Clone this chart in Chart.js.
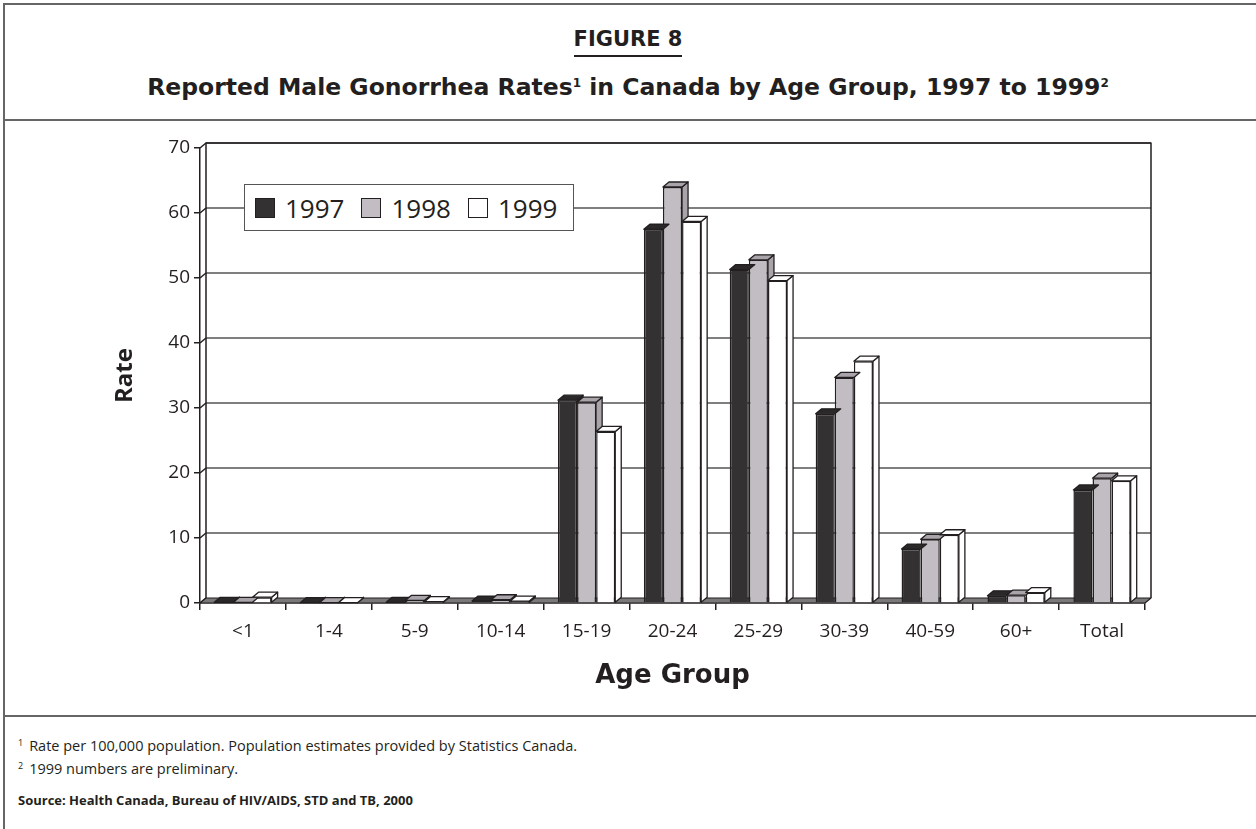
<!DOCTYPE html>
<html>
<head>
<meta charset="utf-8">
<script src="https://cdn.jsdelivr.net/npm/chart.js@4.4.0/dist/chart.umd.min.js"></script>
<style>
  body { margin: 0; width: 1256px; height: 829px; background: #fff; color: #231f20;
         font-family: 'Open Sans', sans-serif; position: relative; overflow: hidden; }
  .frame { position: absolute; left: 3px; top: 3px; right: -10px; bottom: -10px;
           border-left: 2px solid #666; border-top: 2px solid #666; }
  .rule { position: absolute; left: 3px; right: 0; border-top: 2px solid #666; }
  #fig { position: absolute; top: 25px; left: 0; width: 1256px; text-align: center;
         font-family: 'DejaVu Sans', sans-serif; font-weight: bold; font-size: 21px; line-height: 28px; }
  #fig span { display: inline-block; border-bottom: 2px solid #231f20; line-height: 26px; padding-bottom: 3px; }
  #subtitle { position: absolute; top: 72px; left: 0; width: 1256px; text-align: center;
              font-family: 'DejaVu Sans', sans-serif; font-weight: bold; font-size: 23.5px; line-height: 30px; }
  sup { font-size: 12px; vertical-align: 8px; line-height: 0; }
  #chartBox { position: absolute; left: 0; top: 121px; width: 1256px; height: 595px; }
  #legend { position: absolute; left: 244px; top: 184px; width: 318px; height: 45px;
            border: 1px solid #555; background: #fff; display: flex; align-items: center;
            font-size: 26px; padding-left: 10px; box-sizing: content-box; }
  #legend .item { display: flex; align-items: center; margin-right: 17px; }
  #legend i { display: inline-block; width: 18px; height: 18px; border: 1.5px solid #231f20;
              margin-right: 10px; }
  .note { position: absolute; left: 18px; font-size: 14.5px; line-height: 18px; }
  .note sup { font-size: 9px; vertical-align: 5px; margin-right: 6px; }
</style>
</head>
<body>
<div class="frame"></div>
<div id="fig"><span>FIGURE 8</span></div>
<div id="subtitle">Reported Male Gonorrhea Rates<sup>1</sup> in Canada by Age Group, 1997 to 1999<sup>2</sup></div>
<div class="rule" style="top:119px"></div>
<div id="chartBox"><canvas id="chart" width="1256" height="595"></canvas></div>
<div id="legend"></div>
<div class="rule" style="top:715px"></div>
<div class="note" style="top:737px"><sup>1</sup>Rate per 100,000 population. Population estimates provided by Statistics Canada.</div>
<div class="note" style="top:760px"><sup>2</sup>1999 numbers are preliminary.</div>
<div class="note" style="top:791px; font-weight:700; font-size:13px">Source: Health Canada, Bureau of HIV/AIDS, STD and TB, 2000</div>

<script>
// Values
const ageGroups = ['<1', '1-4', '5-9', '10-14', '15-19', '20-24', '25-29', '30-39', '40-59', '60+', 'Total'];
const years = ['1997', '1998', '1999'];
const rates1997 = [0.1, 0.05, 0.1, 0.3, 31.2, 57.5, 51.3, 29.1, 8.3, 1.1, 17.4];
const rates1998 = [0.1, 0.05, 0.4, 0.5, 30.9, 64.0, 52.8, 34.7, 9.8, 1.2, 19.2];
const rates1999 = [0.9, 0.05, 0.2, 0.3, 26.4, 58.7, 49.6, 37.2, 10.5, 1.6, 18.8];
const yTicks = [0, 10, 20, 30, 40, 50, 60, 70];

const fills = ['#333132', '#c1bdc3', '#ffffff'];
const shades = ['#2a2829', '#a8a4aa', '#ffffff'];
const ink = '#231f20';
const font = "'Open Sans', sans-serif";

// depth of the fake 3D look
const DX = 6, DY = -5;

function poly(ctx, pts, fill) {
    ctx.beginPath();
    ctx.moveTo(pts[0][0], pts[0][1]);
    for (let i = 1; i < pts.length; i++) ctx.lineTo(pts[i][0], pts[i][1]);
    ctx.closePath();
    if (fill) { ctx.fillStyle = fill; ctx.fill(); }
    ctx.stroke();
}

const depthPlugin = {
    id: 'depth',
    beforeDatasetsDraw(chart) {
        const { ctx, chartArea: a, scales: { y } } = chart;
        ctx.save();
        ctx.lineJoin = 'round';
        // back wall grid lines and the small diagonals at the axis
        ctx.lineWidth = 1.5;
        yTicks.forEach(v => {
            const py = y.getPixelForValue(v);
            if (v > 0) {
                ctx.strokeStyle = '#555';
                ctx.beginPath();
                ctx.moveTo(a.left + DX, py + DY);
                ctx.lineTo(a.right + DX, py + DY);
                ctx.stroke();
            }
            ctx.strokeStyle = ink;
            ctx.beginPath();
            ctx.moveTo(a.left, py);
            ctx.lineTo(a.left + DX, py + DY);
            ctx.stroke();
        });
        // back wall edges
        ctx.strokeStyle = ink;
        ctx.beginPath();
        ctx.moveTo(a.left + DX, a.bottom + DY);
        ctx.lineTo(a.left + DX, a.top + DY);
        ctx.lineTo(a.right + DX, a.top + DY);
        ctx.lineTo(a.right + DX, a.bottom + DY);
        ctx.stroke();
        // floor
        ctx.lineWidth = 1.2;
        poly(ctx, [[a.left, a.bottom], [a.left + DX, a.bottom + DY], [a.right + DX, a.bottom + DY], [a.right, a.bottom]], '#7a797a');
        ctx.restore();
    },
    afterDatasetsDraw(chart) {
        const ctx = chart.ctx;
        const metas = chart.data.datasets.map((d, i) => chart.getDatasetMeta(i));
        ctx.save();
        ctx.strokeStyle = ink;
        ctx.lineWidth = 1.3;
        ctx.lineJoin = 'round';
        for (let j = 0; j < ageGroups.length; j++) {
            metas.forEach((m, i) => {
                const { x, y, base, width } = m.data[j].getProps(['x', 'y', 'base', 'width'], true);
                const l = x - width / 2, r = x + width / 2;
                // side face, hidden behind the next bar's front
                ctx.save();
                if (metas[i + 1]) {
                    const ny = metas[i + 1].data[j].y;
                    ctx.beginPath();
                    ctx.rect(r, 0, DX + 3, ny);
                    ctx.clip();
                }
                poly(ctx, [[r, y], [r + DX, y + DY], [r + DX, base + DY], [r, base]], shades[i]);
                ctx.restore();
                // top face
                poly(ctx, [[l, y], [l + DX, y + DY], [r + DX, y + DY], [r, y]], shades[i]);
            });
        }
        ctx.restore();
    }
};

const series = [rates1997, rates1998, rates1999];

new Chart(document.getElementById('chart'), {
    type: 'bar',
    data: {
        labels: ageGroups,
        datasets: years.map((yr, i) => ({
            label: yr,
            data: series[i],
            backgroundColor: fills[i],
            borderColor: ink,
            borderWidth: 1.5,
            barPercentage: 1,
            categoryPercentage: 0.667,
        })),
    },
    options: {
        responsive: false,
        animation: false,
        devicePixelRatio: 1,
        layout: { padding: { top: 27, right: 111, left: 0, bottom: 0 } },
        plugins: {
            legend: { display: false },
            tooltip: { enabled: false },
        },
        scales: {
            x: {
                grid: { offset: true, drawOnChartArea: false, tickLength: 7, color: ink, lineWidth: 1.5 },
                border: { display: true, color: ink, width: 1.5 },
                ticks: { font: { family: font, size: 19 }, color: ink, padding: 10, maxRotation: 0, autoSkip: false },
                title: {
                    display: true,
                    text: 'Age Group',
                    color: ink,
                    font: { family: "'DejaVu Sans', sans-serif", size: 26, weight: 'bold' },
                    padding: { bottom: 24 },
                },
                afterFit(s) { s.height = 113; },
            },
            y: {
                min: 0,
                max: 70,
                afterBuildTicks(s) { s.ticks = yTicks.map(v => ({ value: v })); },
                grid: { drawOnChartArea: false, tickLength: 6, color: ink, lineWidth: 1.5 },
                border: { display: true, color: ink, width: 1.5 },
                ticks: { font: { family: font, size: 19 }, color: ink, padding: 4 },
                title: {
                    display: true,
                    text: 'Rate',
                    color: ink,
                    font: { family: font, size: 24, weight: 'bold' },
                    padding: { top: 111 },
                },
                afterFit(s) { s.width = 200; },
            },
        },
    },
    plugins: [depthPlugin],
});

// HTML legend built from the same arrays
const legend = document.getElementById('legend');
years.forEach((yr, i) => {
    legend.insertAdjacentHTML('beforeend',
        `<span class="item"><i style="background:${fills[i]}"></i>${yr}</span>`);
});
</script>
</body>
</html>
